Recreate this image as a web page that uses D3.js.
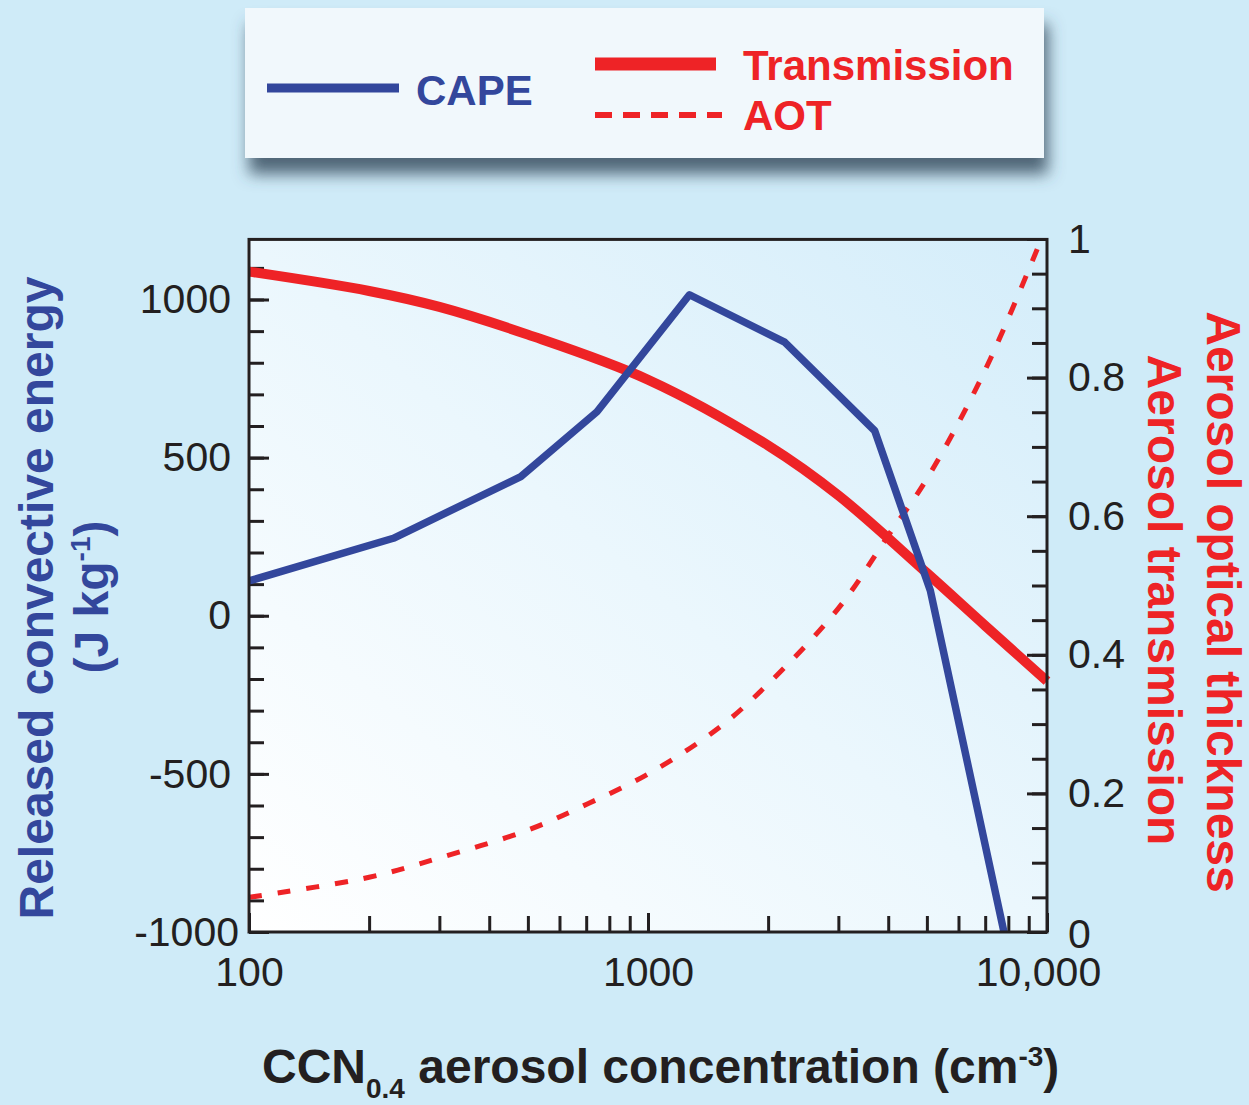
<!DOCTYPE html>
<html>
<head>
<meta charset="utf-8">
<script src="https://cdn.jsdelivr.net/npm/d3@7"></script>
<style>
  html, body { margin: 0; padding: 0; background: #cfebf8; }
  svg { display: block; }
  text { font-family: "Liberation Sans", Arial, Helvetica, sans-serif; }
</style>
</head>
<body>
<svg id="chart" width="1249" height="1105"></svg>
<script>
// CAPE (J/kg) released versus CCN concentration (cm^-3)
const capeCCN    = [100, 230, 480, 745, 1270, 2200, 3700, 5100, 7800];
const capeValues = [110, 245, 440, 645, 1015, 865, 585, 80, -1000];

// Aerosol transmission (fraction) versus CCN concentration
const transCCN    = [100, 200, 300, 500, 1000, 2000, 3000, 5000, 7000, 10000];
const transValues = [0.953, 0.925, 0.902, 0.862, 0.797, 0.702, 0.630, 0.518, 0.442, 0.362];

// Aerosol optical thickness versus CCN concentration
const aotCCN    = [100, 200, 300, 500, 700, 1000, 1500, 2000, 3000, 4000, 5000, 7000, 10000];
const aotValues = [0.050, 0.079, 0.107, 0.147, 0.184, 0.228, 0.294, 0.358, 0.467, 0.572, 0.654, 0.811, 1.02];

// Axis ticks and labels
const xTickValues     = [100, 1000, 10000];
const xTickLabels     = ["100", "1000", "10,000"];
const leftTickValues  = [-1000, -500, 0, 500, 1000];
const leftTickLabels  = ["-1000", "-500", "0", "500", "1000"];
const rightTickValues = [0, 0.2, 0.4, 0.6, 0.8, 1];
const rightTickLabels = ["0", "0.2", "0.4", "0.6", "0.8", "1"];
const legendLabels    = ["CAPE", "Transmission", "AOT"];

const BLUE = "#33479c", RED = "#ee2326", INK = "#231f20";

const svg = d3.select("#chart");
const defs = svg.append("defs");

// plot frame
const X0 = 249, X1 = 1047, Y0 = 239, Y1 = 932;
const leftTop = 1190;

const x  = d3.scaleLog().domain([100, 10000]).range([X0, X1]);
const yL = d3.scaleLinear().domain([-1000, 1000]).range([Y1, 299.5]);
const yR = d3.scaleLinear().domain([0, 1]).range([Y1, Y0]);

// ---- plot background gradient ----
const grad = defs.append("linearGradient").attr("id", "plotBg")
  .attr("x1", 0).attr("y1", 1).attr("x2", 1).attr("y2", 0);
grad.append("stop").attr("offset", 0).attr("stop-color", "#ffffff");
grad.append("stop").attr("offset", 0.5).attr("stop-color", "#ebf7fd");
grad.append("stop").attr("offset", 1).attr("stop-color", "#d4edfa");

svg.append("rect")
  .attr("x", X0 - 2).attr("y", yL(leftTop))
  .attr("width", X1 - X0 + 2).attr("height", Y1 - yL(leftTop))
  .attr("fill", "url(#plotBg)");

defs.append("clipPath").attr("id", "plotClip")
  .append("rect").attr("x", X0).attr("y", yL(leftTop))
  .attr("width", X1 - X0).attr("height", Y1 - yL(leftTop));

// ---- legend with drop shadow ----
const sh = defs.append("filter").attr("id", "legendShadow")
  .attr("x", "-10%").attr("y", "-30%").attr("width", "120%").attr("height", "180%");
sh.append("feDropShadow").attr("dx", 4).attr("dy", 16).attr("stdDeviation", 8)
  .attr("flood-color", "#3a5060").attr("flood-opacity", 0.85);

const lg = svg.append("g");
lg.append("rect").attr("x", 245).attr("y", 8).attr("width", 799).attr("height", 150)
  .attr("fill", "#f1f8fc").attr("filter", "url(#legendShadow)");

lg.append("line").attr("x1", 267).attr("x2", 399).attr("y1", 88).attr("y2", 88)
  .attr("stroke", BLUE).attr("stroke-width", 9);
lg.append("line").attr("x1", 595).attr("x2", 716).attr("y1", 64).attr("y2", 64)
  .attr("stroke", RED).attr("stroke-width", 13);
lg.append("line").attr("x1", 595).attr("x2", 722).attr("y1", 115).attr("y2", 115)
  .attr("stroke", RED).attr("stroke-width", 6).attr("stroke-dasharray", "17,11");

const legendText = [
  { t: legendLabels[0], x: 416, y: 105, c: BLUE },
  { t: legendLabels[1], x: 743, y: 80,  c: RED },
  { t: legendLabels[2], x: 743, y: 130, c: RED }
];
lg.selectAll("text.lg").data(legendText).enter().append("text")
  .attr("x", d => d.x).attr("y", d => d.y).attr("fill", d => d.c)
  .attr("font-size", 42).attr("font-weight", "bold").text(d => d.t);

// ---- axes ----
function styleAxis(g) {
  g.select(".domain").remove();
  g.selectAll(".tick line").attr("stroke", INK).attr("stroke-width", 3);
  g.selectAll(".tick text").attr("fill", INK).attr("font-size", 41)
    .attr("font-family", "'Liberation Sans', Arial, sans-serif");
}

// left axis: minor every 100, major every 500
svg.append("g").attr("transform", `translate(${X0},0)`)
  .call(d3.axisLeft(yL).tickValues(d3.range(-900, 1200, 100)).tickSize(-15).tickFormat(""))
  .call(styleAxis);
svg.append("g").attr("transform", `translate(${X0},0)`)
  .call(d3.axisLeft(yL).tickValues(leftTickValues).tickSize(-20).tickPadding(18)
    .tickFormat((d, i) => leftTickLabels[i]))
  .call(styleAxis)
  .call(g => g.selectAll(".tick text").attr("dx", d => d === -1000 ? 8 : 0));

// right axis: minor every 0.05, major every 0.2
svg.append("g").attr("transform", `translate(${X1},0)`)
  .call(d3.axisRight(yR).tickValues(d3.range(1, 20).map(i => i * 0.05)).tickSize(-15).tickFormat(""))
  .call(styleAxis);
svg.append("g").attr("transform", `translate(${X1},0)`)
  .call(d3.axisRight(yR).tickValues(rightTickValues).tickSize(-20).tickPadding(21)
    .tickFormat((d, i) => rightTickLabels[i]))
  .call(styleAxis)
  .call(g => g.selectAll(".tick text").attr("dy", d => d === 0 ? "0.38em" : "0.32em"));

// bottom axis: log minor ticks
const xMinor = [];
[100, 1000].forEach(dec => { for (let k = 2; k <= 9; k++) xMinor.push(dec * k); });
svg.append("g").attr("transform", `translate(0,${Y1})`)
  .call(d3.axisBottom(x).tickValues(xMinor).tickSize(-16).tickFormat(""))
  .call(styleAxis);
svg.append("g").attr("transform", `translate(0,${Y1})`)
  .call(d3.axisBottom(x).tickValues(xTickValues).tickSize(-19).tickPadding(25)
    .tickFormat((d, i) => xTickLabels[i]))
  .call(styleAxis)
  .call(g => g.selectAll(".tick text").attr("dx", d => d === 10000 ? -9 : 0));

// ---- data lines ----
const aotLine = d3.line().x((d, i) => x(aotCCN[i])).y(d => yR(d)).curve(d3.curveCatmullRom.alpha(0.5));
svg.append("path").datum(aotValues)
  .attr("clip-path", "url(#plotClip)")
  .attr("d", aotLine).attr("fill", "none")
  .attr("stroke", RED).attr("stroke-width", 5).attr("stroke-dasharray", "13,16");

const transLine = d3.line().x((d, i) => x(transCCN[i])).y(d => yR(d)).curve(d3.curveCatmullRom.alpha(0.5));
svg.append("path").datum(transValues)
  .attr("d", transLine).attr("fill", "none")
  .attr("stroke", RED).attr("stroke-width", 10);

const capeLine = d3.line().x((d, i) => x(capeCCN[i])).y(d => yL(d));
svg.append("path").datum(capeValues)
  .attr("d", capeLine).attr("fill", "none")
  .attr("stroke", BLUE).attr("stroke-width", 7.5).attr("stroke-linejoin", "round");

// ---- frame ----
svg.append("rect")
  .attr("x", X0).attr("y", yL(leftTop))
  .attr("width", X1 - X0).attr("height", Y1 - yL(leftTop))
  .attr("fill", "none").attr("stroke", INK).attr("stroke-width", 3);

// ---- axis titles ----
svg.append("text")
  .attr("transform", "translate(53,598) rotate(-90)")
  .attr("text-anchor", "middle").attr("font-size", 48).attr("font-weight", "bold")
  .attr("fill", BLUE).text("Released convective energy");

const unitT = svg.append("text")
  .attr("transform", "translate(108,597) rotate(-90)")
  .attr("text-anchor", "middle").attr("font-size", 48).attr("font-weight", "bold")
  .attr("fill", BLUE);
unitT.append("tspan").text("(J kg");
unitT.append("tspan").attr("font-size", 28).attr("dy", -18).text("-1");
unitT.append("tspan").attr("dy", 18).text(")");

svg.append("text")
  .attr("transform", "translate(1207,602) rotate(90)")
  .attr("text-anchor", "middle").attr("font-size", 48).attr("font-weight", "bold")
  .attr("fill", RED).text("Aerosol optical thickness");
svg.append("text")
  .attr("transform", "translate(1148,600) rotate(90)")
  .attr("text-anchor", "middle").attr("font-size", 48).attr("font-weight", "bold")
  .attr("fill", RED).text("Aerosol transmission");

const xt = svg.append("text")
  .attr("x", 262).attr("y", 1083)
  .attr("font-size", 48).attr("font-weight", "bold").attr("fill", INK);
xt.append("tspan").text("CCN");
xt.append("tspan").attr("font-size", 28).attr("dy", 15).text("0.4");
xt.append("tspan").attr("dy", -15).text(" aerosol concentration (cm");
xt.append("tspan").attr("font-size", 28).attr("dy", -17).text("-3");
xt.append("tspan").attr("dy", 17).text(")");
</script>
</body>
</html>
